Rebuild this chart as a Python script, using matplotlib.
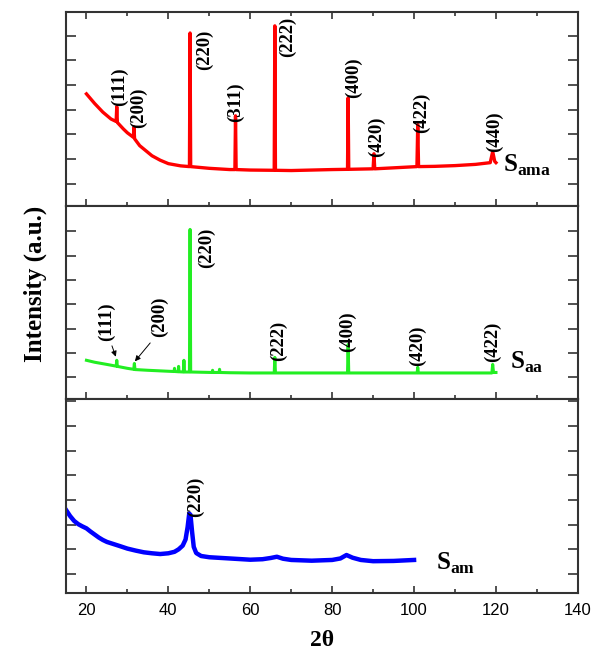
import matplotlib.pyplot as plt
from matplotlib.ticker import MultipleLocator

plt.rcParams['font.family'] = 'Liberation Serif'
plt.rcParams['mathtext.fontset'] = 'custom'
plt.rcParams['mathtext.bf'] = 'Liberation Serif:bold'
plt.rcParams['mathtext.rm'] = 'Liberation Serif'

# S_ama pattern (red), 2theta (deg) vs intensity (a.u.)
tt_ama = [20, 22, 24, 26, 27.25, 27.4, 27.55, 29, 30, 31.45, 31.6, 31.75, 33, 36, 38,
          40, 43, 45.15, 45.3, 45.45, 50, 55, 56.25, 56.4, 56.55, 60, 65.85, 66.0, 66.15,
          70, 75, 80, 83.75, 83.9, 84.05, 87, 90.0, 90.2, 90.4, 95, 100.7, 100.9,
          101.1, 105, 110, 115, 118.6, 119.2, 119.7, 120]
I_ama = [4.64, 4.25, 3.9, 3.62, 3.52, 4.12, 3.48, 3.22, 3.06, 2.88, 3.3, 2.82, 2.54, 2.13, 1.95,
         1.81, 1.72, 1.69, 7.11, 1.69, 1.62, 1.57, 1.57, 3.75, 1.57, 1.55, 1.54, 7.4, 1.54,
         1.53, 1.55, 1.57, 1.58, 4.48, 1.58, 1.59, 1.6, 2.21, 1.6, 1.64, 1.69, 3.39,
         1.69, 1.7, 1.73, 1.78, 1.85, 2.3, 1.9, 1.85]

# S_aa pattern (green)
tt_aa = [20, 22, 25, 27.25, 27.4, 27.55, 30, 31.55, 31.7, 31.85, 35, 40, 41.4, 41.5, 41.6,
         42.4, 42.5, 42.6, 43.65, 43.8, 43.95, 45.15, 45.3, 45.45, 48, 50.7, 50.8, 50.9,
         52.4, 52.5, 52.6, 55, 60, 65.85, 66.0, 66.15, 75, 83.75, 83.9, 84.05, 90,
         100.75, 100.9, 101.05, 110, 119.0, 119.2, 119.4, 120]
I_aa = [1.7, 1.62, 1.53, 1.46, 1.7, 1.45, 1.37, 1.33, 1.57, 1.32, 1.29, 1.25, 1.24, 1.37, 1.24,
        1.23, 1.45, 1.23, 1.22, 1.7, 1.22, 1.22, 7.07, 1.22, 1.21, 1.2, 1.29, 1.2,
        1.2, 1.33, 1.2, 1.19, 1.18, 1.18, 1.82, 1.18, 1.18, 1.18, 2.35, 1.18, 1.18,
        1.18, 1.41, 1.18, 1.18, 1.18, 1.53, 1.2, 1.2]

# S_am pattern (blue)
tt_am = [15, 16, 17, 18, 19, 20, 21, 22, 23, 24, 25, 26.5, 28, 30, 32, 34, 36, 38, 40,
         41.5, 42.5, 43.5, 44.2, 44.7, 45.1, 45.4, 45.8, 46.2, 46.8, 48, 50, 55, 60,
         63, 65, 66.5, 68, 70, 75, 80, 82, 83.5, 85, 87, 90, 95, 100]
I_am = [3.6, 3.35, 3.15, 3.02, 2.93, 2.85, 2.72, 2.6, 2.48, 2.38, 2.3, 2.22, 2.14, 2.03, 1.95, 1.88, 1.84, 1.81, 1.84,
        1.9, 2.0, 2.15, 2.4, 2.9, 3.45, 3.4, 2.7, 2.1, 1.85, 1.73, 1.68, 1.63, 1.58,
        1.6, 1.65, 1.7, 1.62, 1.57, 1.54, 1.57, 1.63, 1.77, 1.66, 1.57, 1.52, 1.53, 1.57]

# peak labels
hkl_ama = ['(111)', '(200)', '(220)', '(311)', '(222)', '(400)', '(420)', '(422)', '(440)']
hkl_aa = ['(111)', '(200)', '(220)', '(222)', '(400)', '(420)', '(422)']
hkl_am = ['(220)']

# label anchor points (x = 2theta, y = bottom of the rotated text)
lab_ama = [(28.0, 4.15), (32.8, 3.27), (48.9, 5.6), (56.3, 3.5), (69.0, 6.14),
           (85.1, 4.48), (90.9, 2.09), (101.7, 3.06), (119.7, 2.3)]
lab_aa = [(25.0, 2.48), (37.9, 2.64), (49.4, 5.5), (66.8, 1.66), (83.8, 2.02),
          (100.9, 1.45), (119.2, 1.61)]
lab_am = [(46.5, 3.32)]

fig = plt.figure(figsize=(6.07, 6.56), dpi=100)
axs = fig.subplots(3, 1, sharex=True, gridspec_kw=dict(hspace=0))
fig.subplots_adjust(left=0.1087, right=0.952, top=0.982, bottom=0.096)

panels = [
    (tt_ama, I_ama, '#ff0000', 2.4, hkl_ama, lab_ama, (0.11, 7.97), range(1, 8)),
    (tt_aa, I_aa, '#22ee22', 2.2, hkl_aa, lab_aa, (0.1, 8.05), range(1, 8)),
    (tt_am, I_am, '#0000ff', 3.2, hkl_am, lab_am, (0.23, 8.08), range(1, 9)),
]

for i, (ax, (x, y, c, lw, hkl, lab, ylim, yt)) in enumerate(zip(axs, panels)):
    ax.plot(x, y, color=c, lw=lw)
    for h, (lx, ly) in zip(hkl, lab):
        ax.text(lx, ly, h, rotation=90, ha='center', va='bottom',
                fontsize=13.5, fontweight='bold')
    ax.set_xlim(15, 140)
    ax.set_ylim(*ylim)
    ax.set_yticks(list(yt))
    ax.xaxis.set_major_locator(MultipleLocator(20))
    ax.xaxis.set_minor_locator(MultipleLocator(10))
    ax.tick_params(axis='y', direction='in', left=True, right=True,
                   labelleft=False, length=7, width=1.2, color='#333333')
    ax.tick_params(axis='x', which='both', direction='in', bottom=True,
                   top=(i == 0), labelbottom=(i == 2), width=1.2, color='#333333')
    ax.tick_params(axis='x', which='major', length=5, labelsize=12,
                   labelfontfamily='Liberation Sans', pad=7)
    ax.tick_params(axis='x', which='minor', length=3)
    for s in ax.spines.values():
        s.set_linewidth(1.5)
        s.set_color('#333333')

axs[0].text(121.7, 1.73, r'$\mathbf{S}_{\mathbf{ama}}$', fontsize=18, va='center', ha='left')
axs[1].text(123.5, 1.6, r'$\mathbf{S}_{\mathbf{aa}}$', fontsize=18, va='center', ha='left')
axs[2].text(105.3, 1.45, r'$\mathbf{S}_{\mathbf{am}}$', fontsize=18, va='center', ha='left')

# arrows for the weak green peaks
axs[1].annotate('', xy=(27.4, 1.74), xytext=(26.0, 2.4),
                arrowprops=dict(arrowstyle='-|>', color='k', lw=0.7, mutation_scale=8))
axs[1].annotate('', xy=(31.4, 1.57), xytext=(36.0, 2.5),
                arrowprops=dict(arrowstyle='-|>', color='k', lw=0.7, mutation_scale=8))

fig.text(35 / 607, 0.568, 'Intensity (a.u.)', rotation=90, ha='center', va='center',
         fontsize=18, fontweight='bold')
fig.text(322 / 607, 1 - 640 / 656, '2θ', ha='center', va='center',
         fontsize=17, fontweight='bold')

fig.savefig('out.png', dpi=100)
